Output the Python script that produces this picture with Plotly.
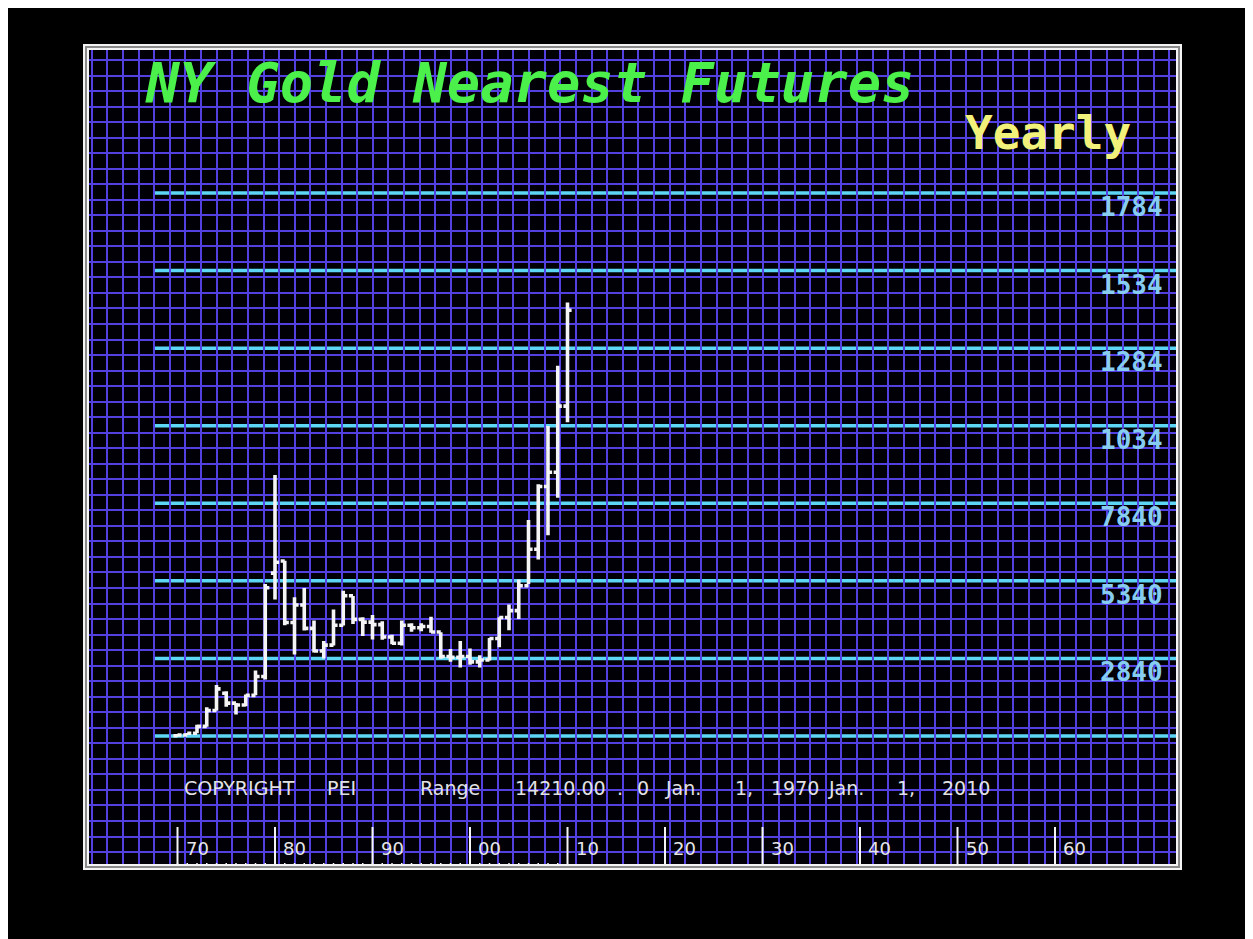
import plotly.graph_objects as go

# ---------------- data ----------------
years = list(range(1970, 2011))
opens = [35, 37, 43, 65, 116, 172, 140, 134, 165, 226, 559, 598, 400, 456, 381, 308, 327, 391, 486, 410,
         401, 393, 353, 333, 391, 383, 387, 369, 290, 288, 290, 273, 279, 348, 416, 438, 518, 636, 838, 884, 1097]
highs = [39, 44, 70, 127, 198, 178, 140, 168, 245, 524, 875, 599, 481, 511, 406, 340, 442, 502, 485, 417,
         424, 404, 360, 406, 397, 397, 418, 368, 314, 340, 316, 294, 350, 417, 458, 538, 730, 845, 1033, 1227, 1431]
lows = [35, 37, 43, 64, 116, 128, 103, 130, 165, 216, 474, 391, 297, 374, 303, 284, 326, 390, 395, 356,
        345, 344, 330, 326, 370, 372, 367, 283, 273, 255, 264, 255, 277, 320, 375, 411, 524, 603, 681, 802, 1045]
closes = [37, 43, 65, 116, 186, 140, 134, 165, 226, 512, 594, 400, 456, 381, 308, 327, 391, 486, 410, 401,
          393, 353, 333, 391, 383, 387, 369, 290, 288, 290, 273, 279, 348, 416, 438, 518, 636, 838, 884, 1097, 1406]

level_values = [34, 284, 534, 784, 1034, 1284, 1534, 1784]
level_labels = ["", "2840", "5340", "7840", "1034", "1284", "1534", "1784"]

decade_years = [1970, 1980, 1990, 2000, 2010, 2020, 2030, 2040, 2050, 2060]
decade_labels = ["70", "80", "90", "00", "10", "20", "30", "40", "50", "60"]

title_text = "NY Gold Nearest Futures"
period_text = "Yearly"
footer_tokens = ["COPYRIGHT", "PEI", "Range", "14210.00", ".", "0", "Jan.", "1,", "1970", "Jan.", "1,", "2010"]
footer_px = [182, 325, 418, 513, 615, 635, 663, 733, 769, 826, 895, 940]

# ---------------- layout geometry ----------------
W, H = 1253, 939
OFF = 8  # page body margin
L, R, T, B = 84, 1181, 45, 869
PW, PH = R - L, B - T


def px_x(px):
    return (px - L) / PW


def px_y(py):
    return (B - py) / PH


GRID = "#5241e0"
WHITE = "#f4f4f4"

fig = go.Figure()
fig.add_trace(go.Ohlc(
    x=years, open=opens, high=highs, low=lows, close=closes,
    increasing=dict(line=dict(color=WHITE, width=3.6)),
    decreasing=dict(line=dict(color=WHITE, width=3.6)),
    tickwidth=0.42, hoverinfo="skip", showlegend=False,
))

shapes = []
for v in level_values:
    shapes.append(dict(type="line", xref="paper", yref="y", x0=px_x(155), x1=1, y0=v, y1=v,
                       line=dict(color="#5cd6f4", width=3.5), layer="below"))
for yr in decade_years:
    shapes.append(dict(type="line", xref="x", yref="paper", x0=yr, x1=yr, y0=px_y(866), y1=px_y(827),
                       line=dict(color=WHITE, width=2)))
# small yearly ticks along the bottom frame
for yr in years[:-1]:
    shapes.append(dict(type="line", xref="x", yref="paper", x0=yr, x1=yr, y0=px_y(867), y1=px_y(863),
                       line=dict(color=WHITE, width=1.5)))
dx, dy = 4 / PW, 4 / PH
shapes.append(dict(type="rect", xref="paper", yref="paper", x0=dx / 2, x1=1 - dx / 2, y0=dy / 2, y1=1 - dy / 2,
                   line=dict(color="#8a8a8a", width=4)))
shapes.append(dict(type="rect", xref="paper", yref="paper", x0=0, x1=1, y0=0, y1=1,
                   line=dict(color=WHITE, width=2)))
shapes.append(dict(type="rect", xref="paper", yref="paper", x0=dx, x1=1 - dx, y0=dy, y1=1 - dy,
                   line=dict(color=WHITE, width=2)))

annotations = []
annotations.append(dict(text=title_text, xref="paper", yref="paper", x=px_x(143), y=px_y(82),
                        xanchor="left", yanchor="middle", showarrow=False,
                        font=dict(family="DejaVu Sans Mono", size=55.5, color="#4cf04a",
                                  weight="bold", style="italic")))
annotations.append(dict(text=period_text, xref="paper", yref="paper", x=px_x(963), y=px_y(133),
                        xanchor="left", yanchor="middle", showarrow=False,
                        font=dict(family="DejaVu Sans Mono", size=46, color="#f2f27a", weight="bold")))
for v, lab in zip(level_values, level_labels):
    if lab:
        annotations.append(dict(text=lab, xref="paper", yref="y", x=px_x(1165), y=v, yshift=-14,
                                xanchor="right", yanchor="middle", showarrow=False,
                                font=dict(family="DejaVu Sans Mono", size=26, color="#86cdf0",
                                          weight="bold")))
for yr, lab in zip(decade_years, decade_labels):
    annotations.append(dict(text=lab, xref="x", yref="paper", x=yr, xshift=6, y=px_y(848),
                            xanchor="left", yanchor="middle", showarrow=False,
                            font=dict(family="DejaVu Sans", size=18, color="#e6e6e6")))
for tok, p in zip(footer_tokens, footer_px):
    annotations.append(dict(text=tok, xref="paper", yref="paper", x=px_x(p), y=px_y(788),
                            xanchor="left", yanchor="middle", showarrow=False,
                            font=dict(family="DejaVu Sans", size=19, color="#e2e2e2")))

px_per_year = 9.75
price_per_px = 250 / 77.57
x0 = 1980 + (L - 275) / px_per_year
x1 = 1980 + (R - 275) / px_per_year
y0 = 34 - (B - 736) * price_per_px
y1 = 34 + (736 - T) * price_per_px

fig.update_layout(
    width=W, height=H,
    margin=dict(l=L - OFF, r=W - R + OFF, t=T - OFF, b=H - B + OFF, pad=0),
    paper_bgcolor="#000000", plot_bgcolor="#000006",
    showlegend=False,
    shapes=shapes, annotations=annotations,
    xaxis=dict(range=[x0, x1], showticklabels=False, ticks="", zeroline=False,
               showgrid=True, gridcolor=GRID, gridwidth=1.7,
               tickmode="linear", tick0=1980 + (91.7 - 275) / px_per_year, dtick=15.62 / px_per_year,
               rangeslider=dict(visible=False), fixedrange=True),
    yaxis=dict(range=[y0, y1], showticklabels=False, ticks="", zeroline=False,
               showgrid=True, gridcolor=GRID, gridwidth=1.7,
               tickmode="linear", tick0=34 + (736 - 60) * price_per_px, dtick=15.53 * price_per_px,
               fixedrange=True),
)

fig.write_html("out.html")
